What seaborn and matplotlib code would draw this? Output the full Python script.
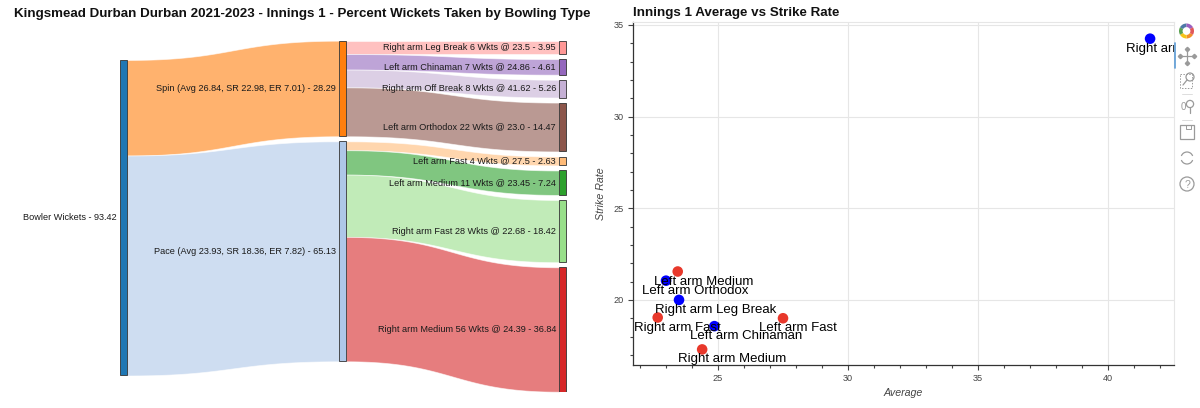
import numpy as np
import pandas as pd
import matplotlib
matplotlib.use('Agg')
import matplotlib.pyplot as plt
import seaborn as sns
from matplotlib.patches import Rectangle, Wedge, Circle, Arc
from matplotlib.ticker import MultipleLocator

# Kingsmead Durban 2021-2023, innings 1, by bowling type
bowl_types = ['Right arm Leg Break', 'Left arm Chinaman', 'Right arm Off Break',
              'Left arm Orthodox', 'Left arm Fast', 'Left arm Medium',
              'Right arm Fast', 'Right arm Medium']
bowl_group = ['Spin', 'Spin', 'Spin', 'Spin', 'Pace', 'Pace', 'Pace', 'Pace']
wickets = [6, 7, 8, 22, 4, 11, 28, 56]
average = [23.5, 24.86, 41.62, 23.0, 27.5, 23.45, 22.68, 24.39]
strike_rate = [20.0, 18.57, 34.25, 21.05, 19.0, 21.55, 19.04, 17.3]
pct_wickets = [3.95, 4.61, 5.26, 14.47, 2.63, 7.24, 18.42, 36.84]

groups = ['Spin', 'Pace']
group_avg = [26.84, 23.93]
group_sr = [22.98, 18.36]
group_er = [7.01, 7.82]
group_pct = [28.29, 65.13]
total_pct = 93.42

sns.set_theme(style='white')
plt.rcParams['font.family'] = ['Liberation Sans', 'DejaVu Sans']

# tab20 colours in the order the sankey nodes were created
pal = sns.color_palette('tab20')
node_order = ['Bowler Wickets', 'Pace', 'Spin', 'Left arm Fast', 'Left arm Medium',
              'Right arm Fast', 'Right arm Medium', 'Right arm Leg Break',
              'Left arm Chinaman', 'Right arm Off Break', 'Left arm Orthodox']
node_color = {name: pal[i] for i, name in enumerate(node_order)}

fig = plt.figure(figsize=(12, 4.08), dpi=100)


def ribbon(ax, x0, x1, y0a, y0b, y1a, y1b, color):
    t = np.linspace(0, 1, 80)
    xm = (x0 + x1) / 2
    bx = (1 - t) ** 3 * x0 + 3 * (1 - t) ** 2 * t * xm + 3 * (1 - t) * t ** 2 * xm + t ** 3 * x1
    s = 3 * t ** 2 - 2 * t ** 3
    top = y0a + (y1a - y0a) * s
    bot = y0b + (y1b - y0b) * s
    ax.fill_between(bx, top, bot, color=color, alpha=0.6, lw=0.6, edgecolor='white', zorder=1)


def node(ax, x, y0, h, color, label):
    ax.add_patch(Rectangle((x, y0), node_w, h, facecolor=color, edgecolor='#333333',
                           lw=0.6, zorder=3))
    ax.text(x - 3, y0 + h / 2, label, ha='right', va='center', fontsize=6.6,
            color='#1a1a1a', zorder=4)


# ---- left: sankey ----
gap = 1.5
extent = total_pct + gap * (len(bowl_types) - 1)
col_x = [120, 339, 559]
node_w = 7
ax1 = fig.add_axes([0, (408 - 391.7) / 408, 0.5, 351 / 408])
ax1.set_xlim(0, 600)
ax1.set_ylim(extent, 0)
ax1.axis('off')

root_top = 5.7
node(ax1, col_x[0], root_top, total_pct, node_color['Bowler Wickets'],
     f'Bowler Wickets - {total_pct}')

# right column positions
type_top = {}
y = 0
for bt, p in zip(bowl_types, pct_wickets):
    type_top[bt] = y
    y += p + gap

y_mid = 0
y_root = root_top
for g, ga, gs, ge, gp in zip(groups, group_avg, group_sr, group_er, group_pct):
    ribbon(ax1, col_x[0] + node_w, col_x[1], y_root, y_root + gp, y_mid, y_mid + gp,
           node_color[g])
    node(ax1, col_x[1], y_mid, gp, node_color[g],
         f'{g} (Avg {ga}, SR {gs}, ER {ge}) - {gp}')
    y_out = y_mid
    for bt, bg, w, a, p in zip(bowl_types, bowl_group, wickets, average, pct_wickets):
        if bg != g:
            continue
        t0 = type_top[bt]
        ribbon(ax1, col_x[1] + node_w, col_x[2], y_out, y_out + p, t0, t0 + p,
               node_color[bt])
        node(ax1, col_x[2], t0, p, node_color[bt], f'{bt} {w} Wkts @ {a} - {p}')
        y_out += p
    y_root += gp
    y_mid += gp + gap

fig.text(14 / 1200, 1 - 17 / 408,
         'Kingsmead Durban Durban 2021-2023 - Innings 1 - Percent Wickets Taken by Bowling Type',
         fontsize=9.6, fontweight='bold', va='baseline', ha='left', color='#111111')

# ---- right: average vs strike rate ----
df = pd.DataFrame({'Type': bowl_types, 'Group': bowl_group,
                   'Average': average, 'Strike Rate': strike_rate})
ax2 = fig.add_axes([633 / 1200, 43 / 408, 541 / 1200, 343 / 408])
sns.scatterplot(data=df, x='Average', y='Strike Rate', hue='Group',
                palette={'Pace': '#e8382b', 'Spin': '#0000ff'}, s=58,
                edgecolor='none', legend=False, ax=ax2, zorder=3)
for _, r in df.iterrows():
    ax2.annotate(r['Type'], (r['Average'], r['Strike Rate']), xytext=(-17.3, -9.4),
                 textcoords='offset points', ha='left', va='baseline', fontsize=9.5,
                 color='black', clip_on=True, zorder=4)

ax2.set_xlim(21.73, 42.54)
ax2.set_ylim(16.45, 35.16)
ax2.xaxis.set_major_locator(MultipleLocator(5))
ax2.xaxis.set_minor_locator(MultipleLocator(1))
ax2.yaxis.set_major_locator(MultipleLocator(5))
ax2.yaxis.set_minor_locator(MultipleLocator(1))
ax2.tick_params(which='major', direction='out', length=3.6, width=0.8, color='#444444',
                labelsize=6.6, labelcolor='#444444', pad=3.2, bottom=True, left=True)
ax2.tick_params(which='minor', direction='out', length=2.2, width=0.8, color='#444444',
                bottom=True, left=True)
ax2.grid(which='major', color='#e6e6e6', lw=0.8)
ax2.set_axisbelow(True)
for side in ['left', 'bottom']:
    ax2.spines[side].set_color('#333333')
    ax2.spines[side].set_linewidth(0.9)
for side in ['top', 'right']:
    ax2.spines[side].set_color('#e6e6e6')
    ax2.spines[side].set_linewidth(0.8)

ax2.set_xlabel('Average', fontsize=7.7, style='italic', color='#444444')
ax2.set_ylabel('Strike Rate', fontsize=7.7, style='italic', color='#444444')
ax2.xaxis.set_label_coords(0.5, -(388 - 365) / 343)
ax2.yaxis.set_label_coords(-(633 - 606) / 541, 0.5)

fig.text(633 / 1200, 1 - 16 / 408, 'Innings 1 Average vs Strike Rate',
         fontsize=9.6, fontweight='bold', va='baseline', ha='left', color='#111111')

# ---- toolbar decoration ----
ov = fig.add_axes([0, 0, 1, 1], facecolor='none')
ov.set_xlim(0, 1200)
ov.set_ylim(408, 0)
ov.axis('off')
logo_cols = ['#f28e2b', '#f5c518', '#59a14f', '#4e79a7', '#9b5fc0', '#e15759']
for i, c in enumerate(logo_cols):
    ov.add_patch(Wedge((1186.5, 31), 7.5, 60 * i + 30, 60 * i + 90, width=3.6,
                       facecolor=c, edgecolor='none'))
ov.plot([1175, 1175], [43, 68], color='#5b9bd5', lw=1.2)
icon = '#9a9a9a'
# pan
ov.plot([1180, 1194], [56, 56], color=icon, lw=0.9)
ov.plot([1187, 1187], [49, 63], color=icon, lw=0.9)
ov.plot([1180, 1194, 1187, 1187], [56, 56, 49, 63], ls='none', marker='D', ms=2.2,
        color=icon)
# box zoom
ov.add_patch(Rectangle((1180, 74), 12, 14, fill=False, edgecolor=icon, lw=0.7, ls=(0, (1.5, 1.5))))
ov.add_patch(Circle((1190, 77), 4, fill=False, edgecolor=icon, lw=0.9))
ov.plot([1187, 1183], [80, 85], color=icon, lw=0.9)
ov.plot([1182, 1192], [94, 94], color='#dddddd', lw=0.7)
# wheel zoom
ov.text(1183, 107, '0', ha='center', va='center', fontsize=7, color=icon)
ov.add_patch(Circle((1190, 104), 3.6, fill=False, edgecolor=icon, lw=0.9))
ov.plot([1190, 1190], [108, 113], color=icon, lw=0.9)
ov.plot([1182, 1192], [120, 120], color='#dddddd', lw=0.7)
# save
ov.add_patch(Rectangle((1180, 125), 14, 14, fill=False, edgecolor=icon, lw=0.9))
ov.add_patch(Rectangle((1186, 125), 5, 4, fill=False, edgecolor=icon, lw=0.7))
# reset
ov.add_patch(Arc((1187, 158), 12, 12, theta1=20, theta2=160, edgecolor=icon, lw=0.9))
ov.add_patch(Arc((1187, 158), 12, 12, theta1=200, theta2=340, edgecolor=icon, lw=0.9))
# help
ov.add_patch(Circle((1187, 184), 7, fill=False, edgecolor=icon, lw=0.9))
ov.text(1187, 184.5, '?', ha='center', va='center', fontsize=7.5, color=icon)

fig.savefig('out.png', dpi=100)
